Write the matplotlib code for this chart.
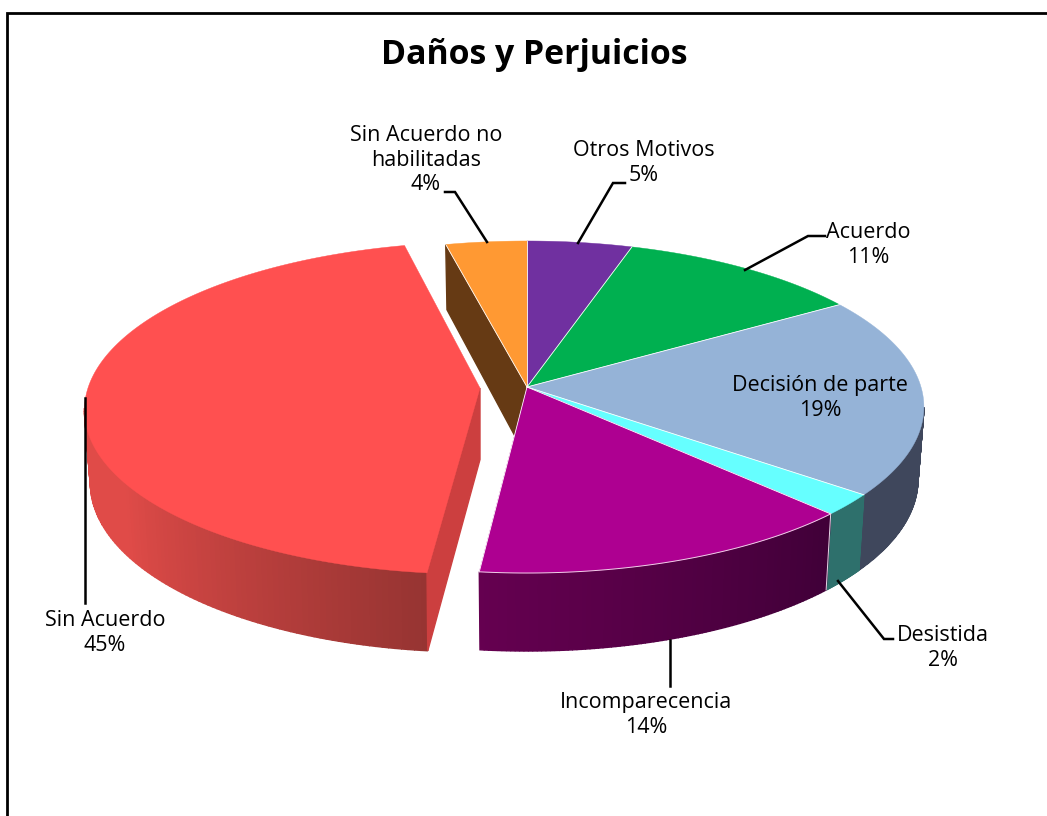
import numpy as np
import matplotlib
matplotlib.use('Agg')
import matplotlib.pyplot as plt
from matplotlib.colors import to_rgb

# slices clockwise from 12 o'clock
categories = ['Otros Motivos', 'Acuerdo', 'Decisión de parte', 'Desistida',
              'Incomparecencia', 'Sin Acuerdo', 'Sin Acuerdo no\nhabilitadas']
shares = [4.8, 11.2, 19.45, 2.1, 14.15, 44.6, 3.7]
pct_labels = ['5%', '11%', '19%', '2%', '14%', '45%', '4%']

top_colors = ['#7030A0', '#00B050', '#95B3D7', '#66FFFF', '#AE0091', '#FF5050', '#FF9933']
# colours at the start and end of the visible part of each side wall
wall_colors = [None, None, ('#3F475C', '#3F475C'), ('#2E706C', '#2E706C'),
               ('#400038', '#650050'), ('#963432', '#E04B48'), None]
wall_gain = [1, 1, 1, 1, 1, 1.5, 1]
cut_colors = {5: '#CC3F3F', 6: '#663A14'}
exploded = 5

label_pos = [(644, 163), (868, 245), (820, 398), (943, 648), (646, 715), (105, 633), (426, 160)]
leaders = [[(625, 183), (613, 183), (578, 243)],
           [(825, 236), (808, 236), (745, 270)],
           [],
           [(893, 639), (884, 639), (838, 581)],
           [(670, 640), (670, 686)],
           [(85, 398), (85, 603)],
           [(445, 192), (455, 192), (487, 242)]]

cx, cy = 527, 387
ax_x, ax_y, k = 394, 163.6, 0.1205


def project(t, xscale=1.0):
    u, v = np.sin(t), np.cos(t)
    w = 1 + k * v
    return xscale * ax_x * u / w, ax_y * v / w, v


def top_point(t, pulled=False):
    x, y, v = project(t, 0.995 if pulled else 1.0)
    if pulled:
        return cx + x - 47 + 5.5 * v, cy - y + 1
    return cx + x, cy - y


def bottom_point(t, pulled=False):
    x, y, v = project(t, 0.98 if pulled else 0.985)
    if pulled:
        return cx + x - 47 + 5.5 * v, cy - y + 1 + 71.5 - 6.5 * v
    return cx + x, cy - y + 71.5 - 6.5 * v


def mix(c1, c2, f):
    return tuple((1 - f) * a + f * b for a, b in zip(to_rgb(c1), to_rgb(c2)))


def draw_walls(ax, i, t0, t1, pulled=False):
    if wall_colors[i] is None:
        return
    t0, t1 = max(t0, np.radians(97)), min(t1, np.radians(263))
    ts = np.linspace(t0, t1, 90)
    for j in range(len(ts) - 1):
        a, b = ts[j], ts[j + 1]
        f = min(1, wall_gain[i] * (j + 0.5) / (len(ts) - 1))
        col = mix(wall_colors[i][0], wall_colors[i][1], f)
        poly = [top_point(a, pulled), top_point(b, pulled), bottom_point(b, pulled), bottom_point(a, pulled)]
        ax.fill(*zip(*poly), facecolor=col, edgecolor=col, lw=1.0, zorder=2)


def draw_top(ax, i, t0, t1, z, pulled=False):
    ts = np.linspace(t0, t1, 150)
    xs = [cx - 47 if pulled else cx] + [top_point(t, pulled)[0] for t in ts]
    ys = [cy + 1 if pulled else cy] + [top_point(t, pulled)[1] for t in ts]
    ax.fill(xs, ys, facecolor=top_colors[i], edgecolor=top_colors[i], lw=0.3, zorder=z)


fig = plt.figure(figsize=(10.47, 8.16), dpi=100)
ax = fig.add_axes([0, 0, 1, 1])
ax.set_xlim(0, 1047)
ax.set_ylim(816, 0)
ax.axis('off')

edges = np.radians(np.concatenate([[0], np.cumsum(shares)]) * 3.6)

# back cut wall of the last slice
t = edges[6]
poly = [top_point(t), (cx, cy), (cx, cy + 71.5), bottom_point(t)]
ax.fill(*zip(*poly), color=cut_colors[6], zorder=1)

for i in range(len(shares)):
    if i == exploded:
        continue
    draw_walls(ax, i, edges[i], edges[i + 1])
    draw_top(ax, i, edges[i], edges[i + 1], 3)

# thin white seams between the slices
for t in edges[:7]:
    ax.plot([cx, top_point(t)[0]], [cy, top_point(t)[1]], color='white', lw=0.6, zorder=3.5)
t = edges[4]
ax.plot([top_point(t)[0], bottom_point(t)[0]], [top_point(t)[1], bottom_point(t)[1]], color='#E8D8E8', lw=0.7, zorder=3.5)
ts = np.linspace(edges[4], edges[5], 60)
ax.plot([top_point(t)[0] for t in ts], [top_point(t)[1] for t in ts], color='#F0D0E8', lw=0.7, zorder=3.5)

# pulled out slice
draw_walls(ax, exploded, edges[exploded], edges[exploded + 1], pulled=True)
t = edges[exploded]
poly = [(cx - 47, cy + 1), top_point(t, True), bottom_point(t, True), (cx - 47, cy + 72.5)]
ax.fill(*zip(*poly), color=cut_colors[5], zorder=4)
draw_top(ax, exploded, edges[exploded], edges[exploded + 1], 5, pulled=True)

for pts in leaders:
    if pts:
        ax.plot(*zip(*pts), color='black', lw=1.8, zorder=6, solid_joinstyle='miter')

for name, pct, pos in zip(categories, pct_labels, label_pos):
    ax.text(pos[0], pos[1], name + '\n' + pct, ha='center', va='center', fontsize=15.5,
            family='Open Sans', linespacing=1.24, color='black', zorder=7)

ax.text(534, 55, 'Daños y Perjuicios', ha='center', va='center', fontsize=24.4,
        family='Open Sans', fontweight='bold', color='black', zorder=7)

# chart frame, cut off at the right and bottom of the picture
ax.plot([7, 7, 1047], [816, 13, 13], color='black', lw=2, zorder=8, solid_joinstyle='miter')

fig.savefig('out.png', dpi=100)
